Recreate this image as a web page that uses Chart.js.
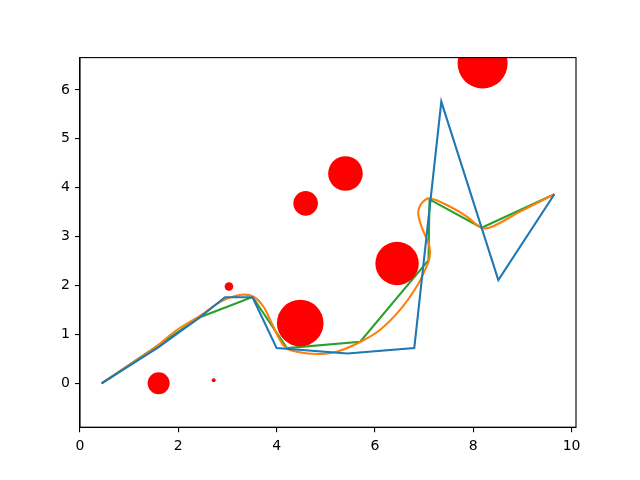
<!DOCTYPE html>
<html>
<head>
<meta charset="utf-8">
<script src="https://cdn.jsdelivr.net/npm/chart.js@4.4.1/dist/chart.umd.min.js"></script>
<style>
  html, body { margin: 0; padding: 0; background: #fff; }
  #wrap { width: 640px; height: 480px; }
</style>
</head>
<body>
<div id="wrap"><canvas id="chart" width="640" height="480"></canvas></div>
<script>
// Data
const blueX = [0.44, 1.60, 2.44, 2.95, 3.51, 4.00, 5.44, 6.80, 7.35, 8.51, 9.65];
const blueY = [0.00, 0.74, 1.35, 1.76, 1.76, 0.72, 0.61, 0.72, 5.76, 2.11, 3.865];

const greenX = [0.44, 2.44, 3.51, 4.21, 5.70, 7.09, 7.11, 8.17, 9.65];
const greenY = [0.00, 1.35, 1.765, 0.72, 0.85, 2.52, 3.76, 3.18, 3.865];

const orangeX = [0.44, 1.00, 1.50, 1.97, 2.44, 2.90, 3.29, 3.53, 3.73, 3.90, 4.07, 4.20, 4.41, 4.82,
                 5.22, 5.69, 6.10, 6.51, 6.85, 7.02, 7.11, 7.11, 6.95, 6.88, 6.95, 7.12, 7.53, 7.87,
                 8.17, 8.38, 8.95, 9.65];
const orangeY = [0.00, 0.37, 0.71, 1.09, 1.38, 1.69, 1.81, 1.77, 1.57, 1.23, 0.88, 0.72, 0.646, 0.60,
                 0.646, 0.84, 1.09, 1.50, 1.98, 2.32, 2.56, 2.79, 3.20, 3.48, 3.68, 3.78, 3.61, 3.41,
                 3.18, 3.20, 3.51, 3.865];

const dotX = [1.60, 2.72, 3.03, 4.48, 4.59, 5.40, 6.45, 8.19];
const dotY = [0.00, 0.06, 1.98, 1.23, 3.68, 4.29, 2.45, 6.54];
const dotR = [11, 2, 4.3, 23.3, 12.3, 17.3, 21.7, 25];   // radius in px

const xTicks = [0, 2, 4, 6, 8, 10];
const yTicks = [0, 1, 2, 3, 4, 5, 6];

const toPts = (xs, ys) => xs.map((x, i) => ({ x: x, y: ys[i] }));

// clip marks to the axes box and draw top/right spines like matplotlib
const frame = {
    id: 'frame',
    beforeDatasetsDraw(chart) {
        const a = chart.chartArea;
        chart.ctx.save();
        chart.ctx.beginPath();
        chart.ctx.rect(a.left, a.top, a.right - a.left, a.bottom - a.top);
        chart.ctx.clip();
    },
    afterDatasetsDraw(chart) {
        const a = chart.chartArea;
        const ctx = chart.ctx;
        ctx.restore();
        ctx.save();
        ctx.strokeStyle = '#000';
        ctx.lineWidth = 1.1;
        ctx.strokeRect(a.left, a.top, a.right - a.left, a.bottom - a.top);
        ctx.restore();
    }
};

const ctx = document.getElementById('chart').getContext('2d');
new Chart(ctx, {
    type: 'scatter',
    data: {
        datasets: [
            {
                data: dotX.map((x, i) => ({ x: x, y: dotY[i] })),
                pointRadius: dotR,
                pointHoverRadius: dotR,
                pointBackgroundColor: '#ff0000',
                pointBorderWidth: 0,
                showLine: false,
                clip: 0
            },
            {
                data: toPts(blueX, blueY),
                showLine: true,
                borderColor: '#1f77b4',
                borderWidth: 2.1,
                pointRadius: 0,
                tension: 0,
                clip: 0
            },
            {
                data: toPts(orangeX, orangeY),
                showLine: true,
                borderColor: '#ff7f0e',
                borderWidth: 2.1,
                pointRadius: 0,
                tension: 0.35,
                clip: 0
            },
            {
                data: toPts(greenX, greenY),
                showLine: true,
                borderColor: '#2ca02c',
                borderWidth: 2.1,
                pointRadius: 0,
                tension: 0,
                clip: 0
            }
        ]
    },
    options: {
        responsive: false,
        animation: false,
        layout: { padding: { top: 57.6, right: 64, left: 0, bottom: 0 } },
        plugins: { legend: { display: false }, tooltip: { enabled: false } },
        scales: {
            x: {
                type: 'linear',
                min: 0,
                max: 10.09,
                afterBuildTicks: (axis) => { axis.ticks = xTicks.map(v => ({ value: v })); },
                afterFit: (axis) => { axis.height = 52.8; },
                grid: { drawOnChartArea: false, drawTicks: true, tickLength: 5, tickColor: '#000', lineWidth: 1.1 },
                border: { color: '#000', width: 1.1 },
                ticks: { color: '#000', padding: 6, maxRotation: 0, font: { family: 'DejaVu Sans', size: 14 } }
            },
            y: {
                type: 'linear',
                min: -0.898,
                max: 6.66,
                afterBuildTicks: (axis) => { axis.ticks = yTicks.map(v => ({ value: v })); },
                afterFit: (axis) => { axis.width = 80; },
                grid: { drawOnChartArea: false, drawTicks: true, tickLength: 5, tickColor: '#000', lineWidth: 1.1 },
                border: { color: '#000', width: 1.1 },
                ticks: { color: '#000', padding: 5, font: { family: 'DejaVu Sans', size: 14 } }
            }
        }
    },
    plugins: [frame]
});
</script>
</body>
</html>
